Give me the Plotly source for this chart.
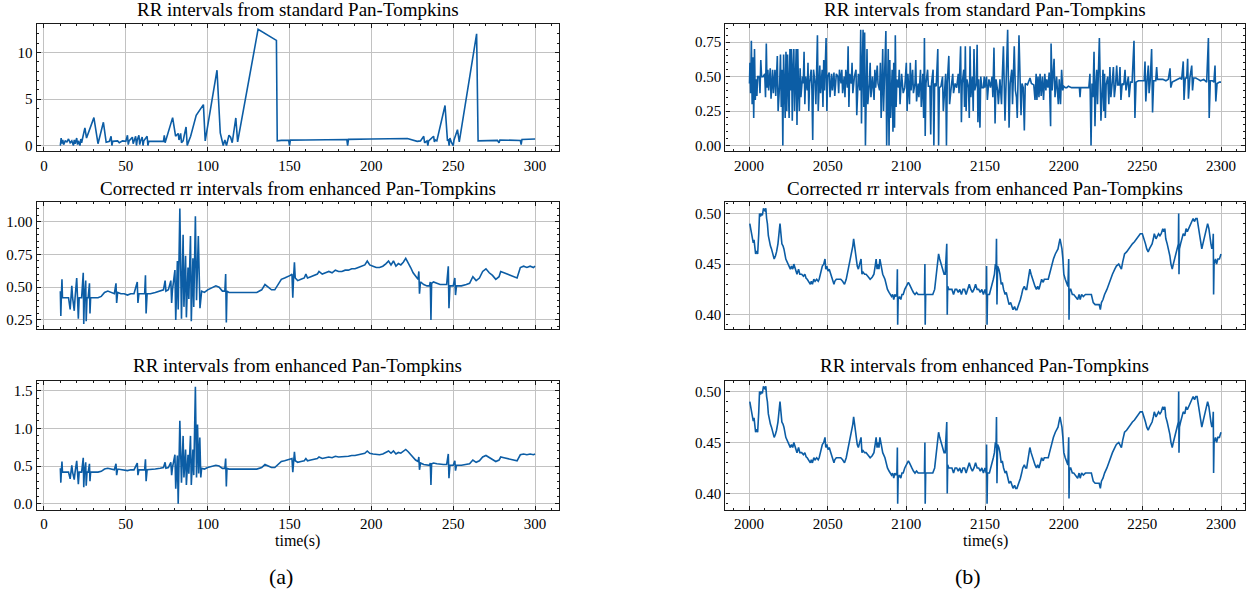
import plotly.graph_objects as go

# ---------------- data (time [s], RR interval [s]) ----------------
# (a) left column: standard Pan-Tompkins
std_left = [
    (10, 0.0), (10.5, 0.8), (11, 0.2), (11.5, 0.6), (12, 0.1), (13, 0.5), (14, 0.4), (15, 0.7),
    (16, 0.3), (17, 0.5), (18, 0.0), (18.5, 0.6), (19, 0.2), (20, 0.8), (20.5, 0.1), (21, 0.5),
    (22, 0.0), (22.5, 0.7), (23, 0.3), (25, 1.9), (26, 0.8), (30.5, 3.0), (33, 0.2), (36.3, 2.5),
    (38, 0.35), (40, 0.45), (41, 1.0), (41.5, 0.0), (42, 0.45), (45, 0.5), (46, 0.3), (48, 0.5),
    (50, 0.45), (51, 1.1), (51.5, 0.1), (52, 0.5), (54, 0.9), (54.5, 0.2), (56, 1.0), (56.5, 0.0),
    (57, 0.6), (58, 1.1), (58.5, 0.1), (59, 0.5), (60, 0.9), (60.5, 0.0), (61, 0.5), (63, 1.0),
    (63.5, 0.0), (64, 0.45), (73, 0.45), (73.5, 1.1), (74, 0.3), (75, 0.9), (78.6, 3.0), (80.4, 1.0),
    (82, 1.3), (82.5, 0.6), (83.5, 1.3), (84, 0.3), (85, 0.5), (86.8, 2.0), (87.5, 0.0), (88.5, 0.5),
    (89.6, 1.0), (93, 3.25), (97.4, 4.4), (98.5, 0.5), (105.7, 8.1), (107.7, 1.35), (108.5, 0.8),
    (109.5, 0.0), (110.5, 0.6), (111.5, 0.0), (113, 1.1), (114, 0.9), (115, 0.3), (117.2, 2.96),
    (118.3, 0.4), (130.8, 12.5), (142, 11.3), (142.5, 0.5), (145, 0.55), (149.5, 0.55), (150, 0.0),
    (150.5, 0.58), (160, 0.6), (170, 0.62), (185, 0.65), (185.5, 0.0), (186, 0.66), (200, 0.7),
    (210, 0.7), (222, 0.75), (228, 0.45), (230, 0.5), (232, 1.0), (232.5, 0.3), (234, 0.5),
    (234.5, 0.0), (235, 0.5), (238, 1.0), (238.5, 0.4), (239, 0.6), (240, 0.5), (245, 4.3),
    (246.5, 0.5), (247, 0.7), (247.5, 0.0), (248, 0.8), (249, 0.3), (250, 0.0), (250.5, 0.6),
    (252.6, 1.7), (253.7, 0.4), (264.3, 12.0), (265.2, 0.5), (270, 0.55), (277, 0.55), (278, 0.3),
    (278.5, 0.6), (291, 0.55), (291.5, 0.1), (292, 0.65), (300, 0.7),
]

# enhanced Pan-Tompkins, left: common part before the noisy burst
enh_left_pre = [
    (10, 0.47), (10.3, 0.28), (10.6, 0.42), (11, 0.56), (11.3, 0.42), (13, 0.42), (15, 0.42),
    (16, 0.33), (16.5, 0.42), (17, 0.51), (17.5, 0.42), (18.5, 0.32), (19, 0.42), (20, 0.57),
    (20.5, 0.42), (21, 0.26), (21.5, 0.42), (23, 0.42), (24, 0.61), (24.3, 0.22), (24.7, 0.42),
    (25.5, 0.55), (25.8, 0.24), (26.3, 0.42), (27, 0.42), (27.8, 0.53), (28.1, 0.30), (28.5, 0.42),
    (30, 0.42), (33, 0.42), (35, 0.43), (37, 0.46), (39, 0.47), (41, 0.46), (43, 0.45), (44, 0.53),
    (44.4, 0.38), (45, 0.46), (47, 0.45), (49, 0.45), (51, 0.44), (53, 0.45), (55, 0.45), (57, 0.54),
    (57.4, 0.38), (58, 0.45), (60, 0.45), (61.5, 0.45), (62, 0.59), (62.4, 0.30), (63, 0.45),
    (65, 0.45), (68, 0.46), (71, 0.47), (73, 0.48), (74, 0.55), (74.5, 0.47), (76, 0.48),
    (77.5, 0.55), (78, 0.38), (78.5, 0.48),
]
# burst after correction
corr_left_burst = [
    (80, 0.63), (80.5, 0.25), (81.5, 0.70), (82, 0.33), (83, 1.10), (84, 0.26), (85, 0.90),
    (85.5, 0.35), (86.5, 0.74), (87, 0.27), (88, 0.65), (88.5, 0.41), (89.5, 0.89), (90, 0.24),
    (91, 0.72), (91.5, 0.35), (92.5, 1.04), (93.2, 0.40), (94.3, 0.89), (95.3, 0.34),
]
# burst before correction
raw_left_burst = [
    (80, 0.65), (80.5, 0.20), (81.5, 0.64), (82, 0.0), (83, 1.10), (84, 0.28), (85, 0.90),
    (85.5, 0.35), (86.5, 0.72), (87, 0.25), (88, 0.65), (88.5, 0.40), (89.5, 0.90), (90, 0.25),
    (91, 0.72), (91.5, 0.38), (92.5, 1.55), (93.2, 0.35), (93.8, 1.05), (94.5, 0.40), (95.2, 0.88),
    (95.8, 0.35),
]
enh_left_post = [
    (96.3, 0.47), (98, 0.46), (100, 0.48), (103, 0.50), (105, 0.51), (107, 0.50), (109, 0.47),
    (110.5, 0.47), (111, 0.60), (111.4, 0.23), (111.8, 0.47), (113, 0.46), (116, 0.46), (120, 0.46),
    (125, 0.46), (130, 0.46), (133, 0.48), (135, 0.52), (137, 0.50), (139, 0.48), (141, 0.48),
    (143, 0.52), (145, 0.56), (147, 0.57), (149, 0.58), (150.5, 0.59), (151.5, 0.60), (152, 0.42),
    (152.5, 0.58), (153, 0.69), (153.5, 0.57), (155, 0.55), (157, 0.56), (159, 0.57), (160, 0.60),
    (161, 0.57), (163, 0.58), (165, 0.59), (167, 0.60), (168, 0.62), (170, 0.60), (172, 0.61),
    (174, 0.62), (176, 0.61), (178, 0.63), (180, 0.62), (182, 0.62), (184, 0.63), (186, 0.63),
    (188, 0.64), (190, 0.64), (192, 0.65), (194, 0.66), (196, 0.67), (197.5, 0.70), (199, 0.67),
    (201, 0.66), (203, 0.65), (205, 0.65), (207, 0.66), (209, 0.68), (210.5, 0.70), (212, 0.67),
    (213.5, 0.70), (215, 0.66), (216.5, 0.68), (218, 0.67), (219.5, 0.69), (221, 0.72), (222.5, 0.69),
    (224, 0.65), (225.5, 0.61), (227, 0.58), (228.5, 0.56), (229, 0.62), (229.4, 0.45), (230, 0.54),
    (232, 0.52), (234, 0.51), (235.5, 0.51), (236, 0.54), (236.4, 0.25), (236.8, 0.53), (238, 0.54),
    (240, 0.53), (242, 0.52), (244, 0.52), (246, 0.52), (247, 0.66), (247.4, 0.34), (248, 0.51),
    (250, 0.51), (251, 0.57), (251.4, 0.44), (252, 0.51), (255, 0.51), (258, 0.52), (260, 0.53),
    (262, 0.58), (264, 0.55), (266, 0.57), (268, 0.62), (270, 0.64), (272, 0.61), (274, 0.59),
    (276, 0.56), (278, 0.58), (279, 0.62), (281, 0.61), (283, 0.60), (285, 0.59), (287, 0.58),
    (289, 0.57), (291, 0.65), (293, 0.66), (295, 0.65), (297, 0.66), (299, 0.65), (300, 0.66),
]

# (b) right column: standard Pan-Tompkins
std_right = [
    (2000.3, 0.45), (2000.6, 0.60), (2001.0, 0.38), (2001.5, 0.76), (2002.0, 0.30), (2002.5, 0.64),
    (2003.0, 0.20), (2003.5, 0.70), (2004.0, 0.33), (2004.5, 0.48), (2005.0, 0.36), (2005.5, 0.50),
    (2006.5, 0.50), (2007.0, 0.38), (2007.5, 0.62), (2008.0, 0.50), (2009.0, 0.50), (2010.0, 0.52),
    (2010.5, 0.35), (2011.0, 0.74), (2011.5, 0.42), (2012.0, 0.55), (2012.5, 0.40), (2013.5, 0.56),
    (2014.0, 0.34), (2015.0, 0.55), (2015.5, 0.38), (2016.5, 0.55), (2017.0, 0.36), (2018.0, 0.65),
    (2018.5, 0.25), (2019.5, 0.45), (2020.0, 0.66), (2020.5, 0.28), (2021.0, 0.55), (2021.5, 0.00),
    (2022.0, 0.66), (2022.5, 0.40), (2023.0, 0.20), (2023.5, 0.68), (2024.0, 0.25), (2024.5, 0.66),
    (2025.0, 0.35), (2025.5, 0.20), (2026.0, 0.70), (2026.5, 0.40), (2027.0, 0.70), (2027.5, 0.18),
    (2028.0, 0.55), (2028.5, 0.70), (2029.0, 0.25), (2029.5, 0.62), (2030.0, 0.70), (2030.5, 0.15),
    (2031.0, 0.70), (2031.5, 0.40), (2032.0, 0.25), (2032.5, 0.56), (2033.0, 0.35), (2034.0, 0.50),
    (2034.5, 0.45), (2035.0, 0.68), (2035.5, 0.30), (2036.0, 0.50), (2037.0, 0.40), (2037.5, 0.60),
    (2038.0, 0.25), (2038.5, 0.45), (2039.5, 0.55), (2040.0, 0.40), (2040.5, 0.04), (2041.0, 0.55),
    (2042.0, 0.45), (2042.5, 0.30), (2043.0, 0.58), (2043.5, 0.80), (2044.0, 0.25), (2044.5, 0.48),
    (2045.0, 0.58), (2045.5, 0.38), (2046.5, 0.55), (2047.0, 0.28), (2047.5, 0.62), (2048.0, 0.40),
    (2049.0, 0.78), (2049.5, 0.25), (2050.0, 0.50), (2051.0, 0.53), (2051.5, 0.35), (2052.5, 0.52),
    (2053.0, 0.40), (2054.0, 0.53), (2054.5, 0.36), (2055.5, 0.52), (2056.5, 0.50), (2057.0, 0.38),
    (2057.5, 0.55), (2058.5, 0.45), (2059.0, 0.55), (2059.5, 0.38), (2060.5, 0.50), (2061.0, 0.35),
    (2061.5, 0.55), (2062.5, 0.42), (2063.0, 0.72), (2063.5, 0.28), (2064.0, 0.52), (2065.0, 0.45),
    (2065.5, 0.60), (2066.0, 0.38), (2067.0, 0.50), (2068.0, 0.55), (2068.5, 0.22), (2069.5, 0.52),
    (2070.5, 0.40), (2071.0, 0.84), (2071.5, 0.16), (2072.0, 0.55), (2072.5, 0.84), (2073.0, 0.28),
    (2073.5, 0.82), (2074.0, 0.00), (2074.5, 0.55), (2075.0, 0.70), (2075.5, 0.30), (2076.5, 0.45),
    (2077.0, 0.60), (2077.5, 0.35), (2078.5, 0.50), (2079.5, 0.33), (2080.0, 0.55), (2080.5, 0.42),
    (2081.5, 0.58), (2082.0, 0.45), (2083.0, 0.40), (2083.5, 0.60), (2084.0, 0.20), (2084.5, 0.55),
    (2085.0, 0.70), (2085.5, 0.25), (2086.0, 0.45), (2087.0, 0.83), (2087.5, 0.00), (2088.0, 0.45),
    (2088.5, 0.70), (2089.0, 0.00), (2089.5, 0.62), (2090.0, 0.20), (2090.5, 0.46), (2091.0, 0.55),
    (2091.5, 0.10), (2092.0, 0.60), (2092.5, 0.13), (2093.0, 0.80), (2093.5, 0.28), (2094.0, 0.48),
    (2095.0, 0.42), (2095.5, 0.55), (2096.0, 0.30), (2097.0, 0.52), (2098.0, 0.38), (2099.0, 0.42),
    (2100.0, 0.60), (2100.5, 0.25), (2101.0, 0.52), (2102.0, 0.30), (2102.5, 0.60), (2103.0, 0.40),
    (2104.0, 0.55), (2104.5, 0.38), (2105.5, 0.45), (2106.0, 0.62), (2106.5, 0.32), (2107.5, 0.45),
    (2108.0, 0.35), (2109.0, 0.55), (2109.5, 0.28), (2110.5, 0.52), (2111.0, 0.20), (2111.5, 0.78),
    (2112.0, 0.07), (2112.5, 0.45), (2113.5, 0.55), (2114.0, 0.43), (2115.0, 0.43), (2115.5, 0.08),
    (2116.0, 0.45), (2117.0, 0.55), (2117.5, 0.00), (2118.0, 0.45), (2119.0, 0.43), (2120.0, 0.70),
    (2120.5, 0.00), (2121.0, 0.42), (2122.0, 0.43), (2123.0, 0.50), (2123.5, 0.25), (2124.5, 0.45),
    (2125.0, 0.52), (2125.5, 0.00), (2126.0, 0.45), (2127.0, 0.65), (2127.5, 0.30), (2128.5, 0.42),
    (2129.5, 0.52), (2130.0, 0.38), (2131.0, 0.45), (2132.0, 0.42), (2133.0, 0.52), (2133.5, 0.38),
    (2134.5, 0.72), (2135.0, 0.17), (2135.5, 0.45), (2136.5, 0.55), (2137.0, 0.28), (2137.5, 0.72),
    (2138.0, 0.25), (2138.5, 0.48), (2139.5, 0.42), (2140.0, 0.20), (2140.5, 0.72), (2141.0, 0.35),
    (2142.0, 0.50), (2142.5, 0.25), (2143.0, 0.70), (2143.5, 0.40), (2144.5, 0.45), (2145.0, 0.73),
    (2145.5, 0.17), (2146.0, 0.48), (2146.8, 0.13), (2147.3, 0.50), (2148.0, 0.42), (2149.0, 0.42),
    (2149.5, 0.50), (2150.0, 0.42), (2151.0, 0.50), (2151.5, 0.33), (2152.5, 0.48), (2153.5, 0.42),
    (2154.5, 0.50), (2155.0, 0.35), (2155.7, 0.71), (2156.4, 0.16), (2157.0, 0.48), (2158.0, 0.40),
    (2158.5, 0.30), (2159.5, 0.48), (2160.5, 0.30), (2161.0, 0.50), (2161.7, 0.72), (2162.7, 0.18),
    (2163.5, 0.45), (2164.4, 0.84), (2165.3, 0.13), (2166.0, 0.45), (2167.0, 0.55), (2167.5, 0.30),
    (2168.6, 0.72), (2169.3, 0.40), (2170.0, 0.35), (2170.5, 0.20), (2171.6, 0.80), (2172.9, 0.22),
    (2173.5, 0.45), (2174.3, 0.42), (2175.0, 0.11), (2175.6, 0.45), (2177.0, 0.44), (2178.6, 0.49),
    (2179.5, 0.45), (2181.0, 0.44), (2181.8, 0.33), (2182.5, 0.52), (2183.0, 0.33), (2183.7, 0.50),
    (2184.3, 0.35), (2185.0, 0.52), (2185.7, 0.36), (2186.5, 0.50), (2187.2, 0.33), (2188.0, 0.52),
    (2188.7, 0.40), (2189.2, 0.48), (2190.0, 0.42), (2190.8, 0.53), (2191.7, 0.14), (2192.0, 0.74),
    (2192.7, 0.40), (2193.9, 0.63), (2194.5, 0.35), (2195.5, 0.50), (2196.6, 0.30), (2197.2, 0.48),
    (2198.0, 0.30), (2198.7, 0.55), (2199.4, 0.40), (2200.0, 0.43), (2201.0, 0.42), (2202.0, 0.42),
    (2203.0, 0.43), (2205.0, 0.42), (2207.0, 0.42), (2209.0, 0.42), (2210.0, 0.42), (2210.4, 0.35),
    (2210.8, 0.42), (2212.0, 0.42), (2214.0, 0.42), (2216.0, 0.42), (2216.7, 0.52), (2217.4, 0.00),
    (2218.0, 0.45), (2218.6, 0.35), (2219.3, 0.68), (2219.9, 0.14), (2220.5, 0.45), (2221.0, 0.55),
    (2221.5, 0.30), (2222.0, 0.45), (2222.7, 0.78), (2223.7, 0.18), (2224.3, 0.45), (2225.0, 0.55),
    (2225.5, 0.25), (2226.0, 0.52), (2226.5, 0.20), (2227.0, 0.44), (2228.0, 0.50), (2228.7, 0.30),
    (2229.4, 0.57), (2230.0, 0.35), (2230.8, 0.45), (2231.6, 0.57), (2232.2, 0.35), (2233.0, 0.44),
    (2233.7, 0.58), (2234.3, 0.44), (2235.2, 0.44), (2235.8, 0.57), (2236.4, 0.33), (2237.2, 0.45),
    (2238.2, 0.44), (2239.0, 0.55), (2239.6, 0.40), (2240.3, 0.45), (2241.1, 0.50), (2241.6, 0.35),
    (2242.5, 0.46), (2243.5, 0.46), (2244.7, 0.76), (2245.3, 0.20), (2246.0, 0.46), (2247.5, 0.47),
    (2249.0, 0.47), (2250.6, 0.47), (2251.2, 0.47), (2251.7, 0.61), (2252.2, 0.32), (2253.0, 0.47),
    (2253.8, 0.58), (2254.3, 0.38), (2255.0, 0.47), (2255.9, 0.70), (2256.5, 0.24), (2257.2, 0.47),
    (2258.5, 0.47), (2259.1, 0.57), (2259.6, 0.48), (2261.0, 0.48), (2263.0, 0.48), (2265.0, 0.47),
    (2266.5, 0.48), (2267.6, 0.56), (2268.1, 0.42), (2269.0, 0.46), (2271.0, 0.47), (2272.5, 0.48),
    (2274.0, 0.49), (2275.0, 0.48), (2276.0, 0.61), (2276.5, 0.33), (2277.3, 0.49), (2278.2, 0.49),
    (2278.8, 0.63), (2279.3, 0.34), (2280.2, 0.49), (2281.4, 0.58), (2281.9, 0.40), (2282.6, 0.49),
    (2284.0, 0.49), (2285.5, 0.48), (2287.0, 0.47), (2289.0, 0.48), (2290.9, 0.46), (2292.0, 0.78),
    (2292.5, 0.20), (2293.2, 0.47), (2294.5, 0.47), (2295.5, 0.46), (2296.2, 0.58), (2296.7, 0.32),
    (2297.5, 0.45), (2299.0, 0.46), (2300.0, 0.46),
]

# (b) right column: enhanced Pan-Tompkins (corrected and raw curves coincide)
enh_right = [
    (2000.5, 0.490), (2001.7, 0.481), (2002.2, 0.475), (2002.7, 0.471), (2003.2, 0.474), (2003.5, 0.466),
    (2004.2, 0.460), (2004.8, 0.463), (2005.5, 0.460), (2006.2, 0.480), (2006.7, 0.500), (2007.3, 0.497),
    (2007.8, 0.500), (2008.5, 0.498), (2009.2, 0.505), (2010.0, 0.503), (2010.7, 0.505), (2011.2, 0.495),
    (2011.7, 0.490), (2012.3, 0.478), (2013.0, 0.470), (2013.6, 0.468), (2014.3, 0.465), (2015.0, 0.460),
    (2016.0, 0.455), (2016.8, 0.458), (2017.5, 0.462), (2018.4, 0.470), (2019.0, 0.478), (2019.7, 0.490),
    (2020.3, 0.480), (2020.9, 0.470), (2021.6, 0.468), (2022.2, 0.465), (2023.4, 0.455), (2024.6, 0.450),
    (2025.5, 0.448), (2026.3, 0.445), (2027.0, 0.448), (2027.8, 0.445), (2028.5, 0.450), (2029.6, 0.445),
    (2030.5, 0.440), (2031.5, 0.445), (2032.3, 0.440), (2033.5, 0.440), (2034.6, 0.438), (2035.5, 0.440),
    (2036.3, 0.436), (2037.0, 0.435), (2038.0, 0.433), (2039.0, 0.430), (2039.6, 0.433), (2040.3, 0.430),
    (2041.2, 0.435), (2042.0, 0.433), (2043.0, 0.435), (2044.0, 0.433), (2044.6, 0.435), (2045.8, 0.445),
    (2046.6, 0.448), (2047.5, 0.450), (2048.3, 0.455), (2048.8, 0.445), (2049.5, 0.448), (2050.2, 0.443),
    (2051.0, 0.445), (2052.0, 0.440), (2053.0, 0.435), (2054.0, 0.430), (2054.5, 0.433), (2055.5, 0.435),
    (2057.0, 0.435), (2058.3, 0.435), (2059.5, 0.433), (2060.7, 0.430), (2061.8, 0.435), (2062.5, 0.440),
    (2063.2, 0.445), (2064.5, 0.455), (2065.3, 0.460), (2066.0, 0.468), (2066.5, 0.475), (2067.0, 0.468),
    (2067.6, 0.460), (2068.2, 0.455), (2068.8, 0.448), (2069.5, 0.445), (2070.3, 0.450), (2071.2, 0.455),
    (2071.8, 0.440), (2072.5, 0.442), (2073.5, 0.440), (2074.4, 0.440), (2075.5, 0.438), (2077.0, 0.435),
    (2078.3, 0.437), (2079.4, 0.440), (2080.2, 0.448), (2080.8, 0.455), (2081.4, 0.445), (2082.0, 0.450),
    (2082.6, 0.445), (2083.2, 0.455), (2083.8, 0.450), (2084.4, 0.445), (2085.0, 0.440), (2086.4, 0.435),
    (2087.2, 0.430), (2088.0, 0.425), (2089.0, 0.422), (2090.0, 0.420), (2090.6, 0.418), (2091.3, 0.420),
    (2092.0, 0.415), (2092.7, 0.420), (2093.4, 0.418), (2094.0, 0.420), (2094.3, 0.445), (2094.5, 0.390),
    (2094.8, 0.415), (2095.6, 0.418), (2096.5, 0.415), (2097.2, 0.420), (2098.0, 0.420), (2099.0, 0.425),
    (2100.0, 0.428), (2100.6, 0.430), (2101.3, 0.432), (2102.0, 0.430), (2102.8, 0.428), (2103.5, 0.425),
    (2104.5, 0.422), (2105.5, 0.420), (2106.5, 0.422), (2107.5, 0.420), (2108.5, 0.420), (2109.3, 0.420),
    (2110.5, 0.420), (2111.5, 0.420), (2111.8, 0.450), (2112.0, 0.390), (2112.3, 0.420), (2113.5, 0.420),
    (2115.0, 0.420), (2116.8, 0.420), (2118.0, 0.425), (2118.8, 0.435), (2119.4, 0.445), (2120.0, 0.455),
    (2120.5, 0.460), (2121.2, 0.455), (2121.8, 0.452), (2122.5, 0.448), (2123.0, 0.445), (2124.0, 0.440),
    (2124.7, 0.440), (2125.7, 0.470), (2126.0, 0.400), (2126.3, 0.428), (2127.0, 0.425), (2128.0, 0.425),
    (2129.0, 0.425), (2130.0, 0.420), (2131.0, 0.425), (2132.0, 0.425), (2133.0, 0.422), (2134.0, 0.425),
    (2135.0, 0.420), (2136.0, 0.425), (2137.0, 0.425), (2138.0, 0.420), (2139.0, 0.425), (2140.0, 0.430),
    (2141.0, 0.425), (2142.0, 0.422), (2143.0, 0.425), (2144.0, 0.430), (2145.0, 0.425), (2146.0, 0.425),
    (2147.0, 0.422), (2148.0, 0.425), (2149.0, 0.420), (2150.0, 0.425), (2150.8, 0.420), (2151.0, 0.448),
    (2151.3, 0.390), (2151.6, 0.420), (2152.8, 0.420), (2153.8, 0.425), (2154.5, 0.430), (2155.3, 0.435),
    (2156.0, 0.440), (2156.6, 0.450), (2157.0, 0.445), (2157.3, 0.475), (2157.6, 0.410), (2158.0, 0.448),
    (2158.8, 0.445), (2159.5, 0.440), (2160.3, 0.430), (2161.0, 0.432), (2161.8, 0.425), (2162.8, 0.420),
    (2163.5, 0.422), (2164.3, 0.415), (2165.3, 0.410), (2166.3, 0.412), (2167.0, 0.408), (2167.8, 0.405),
    (2168.8, 0.408), (2169.5, 0.405), (2170.3, 0.405), (2171.5, 0.410), (2172.5, 0.415), (2173.3, 0.420),
    (2174.0, 0.425), (2175.0, 0.428), (2175.8, 0.425), (2176.5, 0.425), (2177.5, 0.435), (2178.5, 0.445),
    (2179.3, 0.440), (2180.2, 0.435), (2181.0, 0.432), (2181.8, 0.428), (2182.7, 0.425), (2183.5, 0.428),
    (2184.3, 0.425), (2185.2, 0.430), (2186.0, 0.435), (2187.0, 0.432), (2187.7, 0.435), (2188.8, 0.435),
    (2190.2, 0.435), (2191.0, 0.440), (2191.8, 0.445), (2192.7, 0.450), (2193.5, 0.455), (2194.7, 0.460),
    (2195.5, 0.462), (2196.4, 0.465), (2197.0, 0.470), (2197.7, 0.475), (2198.3, 0.470), (2198.9, 0.465),
    (2199.5, 0.455), (2200.1, 0.440), (2201.0, 0.435), (2201.9, 0.430), (2202.7, 0.428), (2203.2, 0.455),
    (2203.4, 0.395), (2203.7, 0.425), (2204.5, 0.425), (2205.5, 0.420), (2206.4, 0.420), (2207.5, 0.418),
    (2208.9, 0.415), (2209.8, 0.420), (2210.5, 0.415), (2211.4, 0.420), (2212.5, 0.418), (2213.8, 0.420),
    (2215.0, 0.420), (2216.3, 0.420), (2217.6, 0.420), (2218.8, 0.412), (2220.0, 0.410), (2221.5, 0.410),
    (2222.6, 0.410), (2223.3, 0.405), (2224.0, 0.412), (2225.0, 0.415), (2226.0, 0.420), (2227.5, 0.425),
    (2228.5, 0.430), (2230.0, 0.435), (2231.0, 0.440), (2232.5, 0.445), (2233.5, 0.448), (2235.0, 0.450),
    (2235.8, 0.448), (2236.7, 0.445), (2237.5, 0.452), (2238.7, 0.460), (2240.0, 0.462), (2241.2, 0.465),
    (2242.5, 0.468), (2243.7, 0.470), (2245.0, 0.472), (2246.2, 0.475), (2247.5, 0.478), (2248.7, 0.480),
    (2250.0, 0.480), (2251.2, 0.475), (2252.0, 0.470), (2252.8, 0.465), (2253.7, 0.462), (2254.5, 0.465),
    (2255.3, 0.468), (2256.2, 0.470), (2257.0, 0.475), (2257.6, 0.480), (2258.7, 0.475), (2259.5, 0.478),
    (2260.3, 0.480), (2261.2, 0.478), (2262.0, 0.480), (2263.0, 0.485), (2263.6, 0.482), (2264.3, 0.485),
    (2264.9, 0.475), (2265.8, 0.470), (2266.6, 0.465), (2267.5, 0.458), (2268.2, 0.450), (2269.0, 0.445),
    (2269.7, 0.450), (2270.5, 0.455), (2271.5, 0.462), (2272.3, 0.465), (2272.9, 0.470), (2273.1, 0.500),
    (2273.3, 0.440), (2273.6, 0.465), (2274.3, 0.470), (2275.0, 0.475), (2276.0, 0.480), (2277.0, 0.478),
    (2277.8, 0.485), (2278.6, 0.482), (2279.5, 0.485), (2280.3, 0.488), (2281.0, 0.490), (2281.8, 0.492),
    (2282.3, 0.495), (2283.2, 0.492), (2284.0, 0.495), (2284.8, 0.495), (2285.5, 0.488), (2286.0, 0.480),
    (2286.8, 0.475), (2287.3, 0.470), (2287.8, 0.465), (2288.5, 0.470), (2289.2, 0.475), (2289.8, 0.480),
    (2290.5, 0.485), (2291.5, 0.490), (2292.3, 0.485), (2293.0, 0.475), (2293.6, 0.470), (2294.2, 0.465),
    (2294.8, 0.470), (2295.1, 0.480), (2295.3, 0.420), (2295.6, 0.450), (2296.5, 0.455), (2297.2, 0.450),
    (2298.0, 0.455), (2299.0, 0.455), (2299.6, 0.458), (2300.0, 0.460),
]

titles = ["RR intervals from standard Pan-Tompkins",
          "Corrected rr intervals from enhanced Pan-Tompkins",
          "RR intervals from enhanced Pan-Tompkins"]
xlabel = "time(s)"
captions = ["(a)", "(b)"]

# ---------------- figure ----------------
W, H = 1253, 600
BLUE = "#0C5DA5"
FONT = "Liberation Serif"
AX = "#1a1a1a"
GRID = "#c2c2c2"

corr_left = enh_left_pre + corr_left_burst + enh_left_post
raw_left = enh_left_pre + raw_left_burst + enh_left_post
series = [std_left, corr_left, raw_left, std_right, enh_right, enh_right]

LX = [36.6 / W, 558.8 / W]
RX = [725.4 / W, 1244.6 / W]
ROWS = [[1 - 152 / H, 1 - 24 / H], [1 - 330 / H, 1 - 203 / H], [1 - 511.5 / H, 1 - 382.5 / H]]

panels = [
    # xdom, row, xrange, yrange, ydtick, yminor, yfmt, x labels
    (LX, 0, [-4.5, 314.5], [-0.64, 13.07], 5, 1, "d", True),
    (LX, 1, [-4.5, 314.5], [0.182, 1.147], 0.25, 0.05, ".2f", False),
    (LX, 2, [-4.5, 314.5], [-0.08, 1.625], 0.5, 0.1, ".1f", True),
    (RX, 0, [1985, 2315], [-0.043, 0.882], 0.25, 0.05, ".2f", True),
    (RX, 1, [1985, 2315], [0.386, 0.511], 0.05, 0.01, ".2f", False),
    (RX, 2, [1985, 2315], [0.384, 0.510], 0.05, 0.01, ".2f", True),
]

fig = go.Figure()
layout = {}
for i, (pts, (xd, row, xr, yr, ydt, ymn, yfmt, xlab)) in enumerate(zip(series, panels)):
    n = "" if i == 0 else str(i + 1)
    fig.add_trace(go.Scatter(
        x=[p[0] for p in pts], y=[p[1] for p in pts], mode="lines",
        line=dict(color=BLUE, width=1.6), xaxis="x" + n, yaxis="y" + n,
        showlegend=False, hoverinfo="skip"))
    common = dict(showline=True, linecolor=AX, linewidth=1.2, mirror="allticks",
                  ticks="inside", ticklen=4, tickcolor=AX, tickwidth=1,
                  showgrid=True, gridcolor=GRID, gridwidth=1, zeroline=False,
                  tickfont=dict(family=FONT, size=15, color="black"))
    layout["xaxis" + n] = dict(common, domain=xd, range=xr, anchor="y" + n,
                               dtick=50, tick0=0, showticklabels=xlab,
                               minor=dict(ticks="inside", ticklen=2, dtick=10, tick0=0,
                                          tickcolor=AX, showgrid=False))
    layout["yaxis" + n] = dict(common, domain=ROWS[row], range=yr, anchor="x" + n,
                               dtick=ydt, tick0=0, tickformat=yfmt,
                               minor=dict(ticks="inside", ticklen=2, dtick=ymn, tick0=0,
                                          tickcolor=AX, showgrid=False))

ann = []
for xd in (LX, RX):
    xc = (xd[0] + xd[1]) / 2
    for row, py in zip(range(3), (10, 189, 367)):
        ann.append(dict(text=titles[row], x=xc, y=1 - py / H, xref="paper", yref="paper",
                        xanchor="center", yanchor="middle", showarrow=False,
                        font=dict(family=FONT, size=19, color="black")))
for xc_px in (297.7, 985):
    ann.append(dict(text=xlabel, x=xc_px / W, y=1 - 543 / H, xref="paper", yref="paper",
                    xanchor="center", yanchor="middle", showarrow=False,
                    font=dict(family=FONT, size=16, color="black")))
for xc_px, cap in zip((281, 968), captions):
    ann.append(dict(text=cap, x=xc_px / W, y=1 - 578 / H, xref="paper", yref="paper",
                    xanchor="center", yanchor="middle", showarrow=False,
                    font=dict(family=FONT, size=22, color="black")))

fig.update_layout(width=W, height=H, margin=dict(l=0, r=0, t=0, b=0),
                  paper_bgcolor="white", plot_bgcolor="white",
                  font=dict(family=FONT, color="black"), annotations=ann, **layout)
fig.write_html("out.html")
